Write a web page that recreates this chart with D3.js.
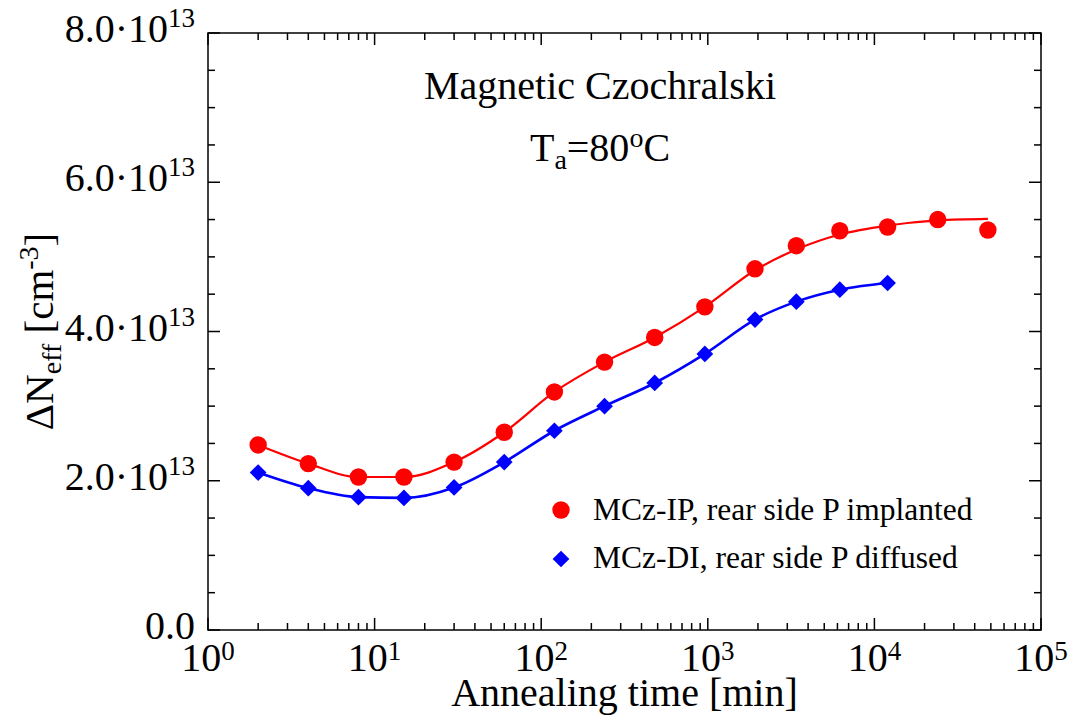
<!DOCTYPE html>
<html>
<head>
<meta charset="utf-8">
<script src="https://cdn.jsdelivr.net/npm/d3@7"></script>
<style>
    body { margin: 0; background: #fff; }
    svg text { font-family: "Liberation Serif", "Times New Roman", serif; fill: #000; }
</style>
</head>
<body>
<div id="chart"></div>
<script>
// annealing times [min]
const timesIP = [2, 4, 8, 15, 30, 60, 120, 240, 480, 960, 1920, 3400, 6200, 12000, 24000, 48000];
const timesDI = [2, 4, 8, 15, 30, 60, 120, 240, 480, 960, 1920, 3400, 6200, 12000];
// delta Neff in units of 1e13 cm^-3
const valuesIP = [2.48, 2.23, 2.05, 2.05, 2.25, 2.65, 3.19, 3.59, 3.92, 4.33, 4.84, 5.15, 5.35, 5.40, 5.50, 5.36];
const fitIP = [2.48, 2.23, 2.05, 2.05, 2.25, 2.65, 3.19, 3.59, 3.92, 4.33, 4.82, 5.10, 5.30, 5.42, 5.49, 5.51];
const valuesDI = [2.11, 1.90, 1.78, 1.77, 1.91, 2.25, 2.67, 3.00, 3.31, 3.70, 4.16, 4.40, 4.56, 4.65];
const xTickExps = [0, 1, 2, 3, 4, 5];
const yTickMantissas = [0, 2, 4, 6, 8];
const legendLabels = ["MCz-IP, rear side P implanted", "MCz-DI, rear side P diffused"];

const width = 1068, height = 726;
const margin = { left: 208, right: 27, top: 33, bottom: 96 };

const svg = d3.select("#chart").append("svg")
    .attr("width", width).attr("height", height);

const x = d3.scaleLog().domain([1, 1e5]).range([margin.left, width - margin.right]);
const y = d3.scaleLinear().domain([0, 8]).range([height - margin.bottom, margin.top]);

// ticks: minor every integer within a decade, y minor every 0.5
const xMinor = [];
for (let e = 0; e < 5; e++) for (let m = 2; m <= 9; m++) xMinor.push(m * Math.pow(10, e));
const yMinor = d3.range(0, 8.01, 0.5).filter(v => v % 2 !== 0);

const axisG = svg.append("g").attr("stroke", "#000").attr("stroke-width", 1.5);
const x0 = x.range()[0], x1 = x.range()[1], y0 = y.range()[0], y1 = y.range()[1];

function tick(g, x1_, y1_, x2_, y2_) {
    g.append("line").attr("x1", x1_).attr("y1", y1_).attr("x2", x2_).attr("y2", y2_);
}

xTickExps.forEach(e => {
    const px = x(Math.pow(10, e));
    tick(axisG, px, y0, px, y0 - 12);
    tick(axisG, px, y1, px, y1 + 12);
});
xMinor.forEach(v => {
    const px = x(v);
    tick(axisG, px, y0, px, y0 - 7);
    tick(axisG, px, y1, px, y1 + 7);
});
yTickMantissas.forEach(v => {
    const py = y(v);
    tick(axisG, x0, py, x0 + 12, py);
    tick(axisG, x1, py, x1 - 12, py);
});
yMinor.forEach(v => {
    const py = y(v);
    tick(axisG, x0, py, x0 + 7, py);
    tick(axisG, x1, py, x1 - 7, py);
});

axisG.append("rect")
    .attr("x", x0).attr("y", y1)
    .attr("width", x1 - x0).attr("height", y0 - y1)
    .attr("fill", "none");

// x tick labels 10^n
xTickExps.forEach(e => {
    const t = svg.append("text")
        .attr("x", x(Math.pow(10, e))).attr("y", y0 + 41)
        .attr("text-anchor", "middle").attr("font-size", 40);
    t.append("tspan").text("10");
    t.append("tspan").attr("dy", -11).attr("font-size", 27).text(e);
});

// y tick labels m.0·10^13
yTickMantissas.forEach(v => {
    const t = svg.append("text")
        .attr("x", x0 - 13).attr("y", y(v) + 9)
        .attr("text-anchor", "end").attr("font-size", 40);
    if (v === 0) {
        t.text("0.0");
    } else {
        t.append("tspan").text(v.toFixed(1) + "\u00b710");
        t.append("tspan").attr("dy", -15).attr("font-size", 27).text("13");
    }
});

// axis titles
svg.append("text")
    .attr("x", (x0 + x1) / 2).attr("y", 706)
    .attr("text-anchor", "middle").attr("font-size", 40)
    .text("Annealing time [min]");

const yl = svg.append("text")
    .attr("transform", `translate(53,${(y0 + y1) / 2}) rotate(-90)`)
    .attr("text-anchor", "middle").attr("font-size", 41);
yl.append("tspan").text("\u0394N");
yl.append("tspan").attr("dy", 8).attr("font-size", 28).text("eff");
yl.append("tspan").attr("dy", -8).text(" [cm");
yl.append("tspan").attr("dy", -15).attr("font-size", 28).text("-3");
yl.append("tspan").attr("dy", 15).text("]");

// annotation
const cx = 600;
svg.append("text").attr("x", cx).attr("y", 99)
    .attr("text-anchor", "middle").attr("font-size", 40)
    .text("Magnetic Czochralski");
const ta = svg.append("text").attr("x", cx).attr("y", 161)
    .attr("text-anchor", "middle").attr("font-size", 40);
ta.append("tspan").text("T");
ta.append("tspan").attr("dy", 8).attr("font-size", 28).text("a");
ta.append("tspan").attr("dy", -8).text("=80");
ta.append("tspan").attr("dy", -14).attr("font-size", 28).text("o");
ta.append("tspan").attr("dy", 14).text("C");

// series
const line = d3.line().x(d => x(d[0])).y(d => y(d[1])).curve(d3.curveMonotoneX);
const diamond = d3.symbol().type(d3.symbolSquare).size(140);

svg.append("path")
    .attr("d", line(d3.zip(timesIP, fitIP)))
    .attr("fill", "none").attr("stroke", "#ff0000").attr("stroke-width", 2.2);
svg.append("path")
    .attr("d", line(d3.zip(timesDI, valuesDI)))
    .attr("fill", "none").attr("stroke", "#0000ff").attr("stroke-width", 2.6);

svg.append("g").selectAll("circle")
    .data(d3.zip(timesIP, valuesIP))
    .join("circle")
    .attr("cx", d => x(d[0])).attr("cy", d => y(d[1]))
    .attr("r", 8.7).attr("fill", "#ff0000");

svg.append("g").selectAll("path")
    .data(d3.zip(timesDI, valuesDI))
    .join("path")
    .attr("d", diamond)
    .attr("transform", d => `translate(${x(d[0])},${y(d[1])}) rotate(45)`)
    .attr("fill", "#0000ff");

// legend
const legend = svg.append("g").attr("transform", "translate(561,510)");
legend.append("circle").attr("r", 8.7).attr("fill", "#ff0000");
legend.append("path").attr("d", diamond)
    .attr("transform", "translate(0,49) rotate(45)").attr("fill", "#0000ff");
legendLabels.forEach((label, i) => {
    legend.append("text")
        .attr("x", 32).attr("y", 10 + i * 48)
        .attr("font-size", 31.5)
        .text(label);
});
</script>
</body>
</html>
